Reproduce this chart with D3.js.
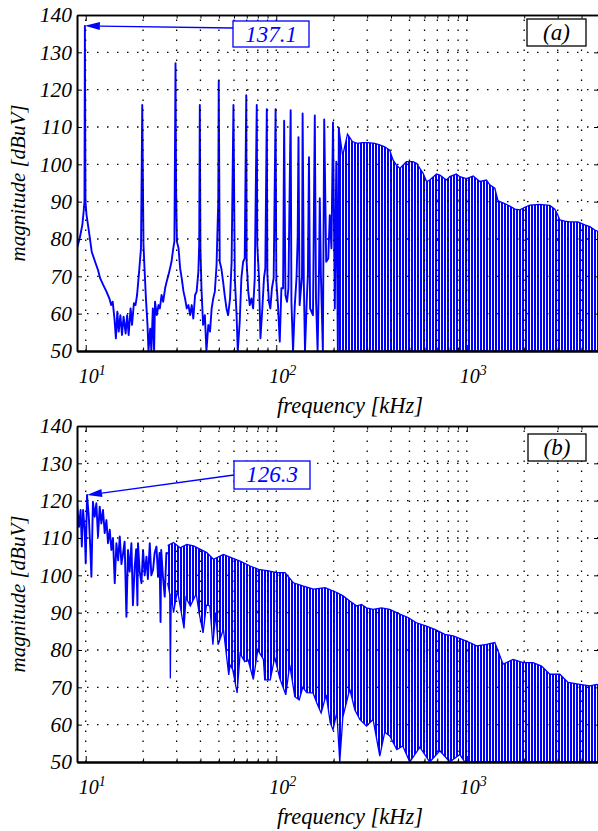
<!DOCTYPE html>
<html><head><meta charset="utf-8">
<script src="https://cdn.jsdelivr.net/npm/d3@7"></script>
<style>
html,body{margin:0;padding:0;background:#fff;}
svg{display:block;}
</style></head><body>
<svg id="chart" width="598" height="831"></svg>
<script>
// ---------- axis data ----------
const xDecades = [10, 100, 1000];
const xDecadeExp = ["1", "2", "3"];
const xMinor = [20,30,40,50,60,70,80,90,200,300,400,500,600,700,800,900,2000,3000,4000];
const yTicks = [50,60,70,80,90,100,110,120,130,140];

// ---------- panel (a): low-frequency trace (kHz, dBuV) ----------
const lineFreqA = [9.0,9.3,9.6,9.75,9.85,9.9,9.97,10.1,10.4,10.75,11.2,11.6,11.9,12.35,12.85,13.3,13.6,13.85,14.15,14.4,14.65,14.9,15.2,15.5,15.8,16.2,16.5,16.8,17.2,17.5,17.9,18.25,18.6,19.0,19.5,19.8,20.1,20.35,20.7,21.1,21.35,21.8,22.1,22.5,22.85,23.1,23.6,24.1,24.5,25.0,25.5,26.1,26.6,27.2,28.2,28.8,29.2,29.6,29.8,30.1,30.7,31.3,31.9,32.6,33.2,33.9,34.6,35.3,36.0,36.7,37.5,38.2,39.0,39.4,39.7,40.0,40.5,41.3,42.2,43.0,44.0,44.9,45.8,46.7,47.6,48.6,49.6,49.9,50.5,51.5,52.6,53.6,54.8,55.9,57.2,58.3,59.6,60.6,61.9,62.8,64.3,65.6,67.0,68.3,69.6,69.9,71.3,72.6,74.1,75.6,77.1,79.0,79.5,81.2,82.6,84.5,86.2,87.6,89.2,89.8,91.5,93.1,94.9,96.9,99.2,100.1,102.1,104.3,106.4,108.6,110.0,111.7,113.9,115.8,119.0,120.1,122.5,125.1,127.7,129.5,130.8,132.6,136.5,137.5,139.5,141.5,144.7,146.5,148.5,150.5,155.8,159.3,161.6,164.8,167.3,169.2,171.5,175.6,178.5,182.8,187.5,190.9,194.8,198.5,202.9,206.5,210.5,213,216];
const lineDbA = [77.5,80.2,83.8,87.3,90,137.1,90,86.4,82,76.6,73.9,71.7,69.5,67.7,65.9,64.1,62.3,63.2,58.7,53.4,60.5,55.2,59.6,54.3,59.2,54.7,59.6,54.3,61.4,57,62.8,62.3,65,70.4,77.5,115.9,78.4,72.1,64.1,57,50,56,50,61.4,50,63.2,59.6,62.3,61.4,65,63.2,66.8,68.6,70.4,73.9,77.5,79.3,127.1,93.6,79.3,77.5,72.1,69.5,65.9,64.1,61.4,62.3,59.6,62.3,58.7,65,65.9,71.2,78.4,115.9,77.5,66.8,57,59.6,50,57,55.2,61.4,64.1,65.9,73,90,122.4,73.9,72.1,68.6,65,61.4,59.6,64.1,73.9,115.9,69.5,59.6,50,57.9,69.5,73.9,74.8,118.5,73.9,65.9,62.3,64.1,61.4,69.5,115.9,78.4,69.5,53.4,61.4,69.5,72.1,114.8,70.4,63.2,61.4,66.8,69.5,114.8,68.6,62.3,52.5,66.8,66.8,111.7,65,63.2,66.8,114.5,63.2,50,62.3,69.5,80.2,107.3,62.3,70,113.6,68.6,50,64.1,70.4,101.9,61.4,59.6,113.1,64.1,50,68.6,90.9,70.4,50,112,73.9,74.8,86.4,77.5,111.2,61.4,100.7,50,109.8,60];

// ---------- panel (a): dense harmonic band, top and bottom envelopes ----------
const bandTopFreqA = [213,223,236.5,251,266,282,303,329,349,371,394,410,427,445,482,522,544,567,590,615,639,693,722,782,814,882,919,996,1080,1170,1268,1320,1403,1455,1490,1583,1682,1786,1898,2016,2142,2417,2727,2897,3000,3077,3268,3473,3830,4163,4423,4698,5000];
const bandTopDbA = [109.8,102.3,108.1,106.1,105.6,105.8,105.8,105.6,105.2,104.7,103.8,101.2,99.8,98.9,100.7,100.7,100.3,98.9,97.6,95.4,95.8,97.4,97.1,95.8,96.7,97.4,96.7,96.2,96.9,95.4,95.8,94.5,93.6,90.4,90.0,89.5,88.8,88.0,87.8,88.5,89.1,89.3,89.0,88.0,86.5,85.1,84.8,84.6,84.6,83.8,83.3,82.4,81.8];
const bandBotFreqA = [213, 5000];
const bandBotDbA = [50, 50];

// ---------- panel (b): low-frequency trace ----------
const lineFreqB = [9.0,9.22,9.40,9.54,9.69,9.88,10.0,10.16,10.38,10.58,10.71,10.91,11.15,11.37,11.60,11.84,12.08,12.32,12.58,12.84,13.09,13.37,13.64,13.9,14.20,14.49,14.8,15.09,15.4,15.70,16.0,16.35,16.67,17.0,17.37,17.69,18.08,18.4,18.68,18.81,19.2,19.61,19.99,20.4,20.83,21.2,21.68,22.1,22.57,23.0,23.51,23.97,24.4,24.7,24.9,25.4,25.98,26.5,27.1];
const lineDbB = [119.3,113.0,117.5,107.7,117.5,112.1,103.2,121.5,115.7,106.8,99.6,119.7,115.7,119.3,110.4,118.4,113.9,117.5,111.3,114.8,108.6,112.2,106.8,110,97.9,108.6,104,110.4,103,105.9,109,88.9,106.8,101,108.6,92,102.4,107,92,108.6,101,97.9,106.8,100,105,99,108.6,100,101.5,106,107.7,99.6,106,87.5,106.8,100,94.3,106,105.9];

// ---------- panel (b): dense band envelopes ----------
const bandTopFreqB = [26.9,28.9,31.3,33.9,36.8,39.8,43.2,46.8,52.8,58.4,64.6,72.9,80.7,91.0,100.6,111.2,123.1,139,156.8,180.4,207.9,224.2,243.1,264.6,280.1,297.5,322.2,356.6,394.3,444.9,491.8,544.4,614.4,679.2,766.5,847.5,938,1037,1125,1269,1403,1551,1750,1975,2229,2467,2727,3077,3401,3919,4423,4813,5000];
const bandTopDbB = [108,108.8,107.4,108.3,107.9,107,106.1,104.3,105.6,104.7,103.8,102.5,101.6,101.2,100.7,100.7,98,97.1,96.3,96.7,95.4,94.5,93.1,91.8,92.2,91.3,90.9,91.3,90.9,89.6,88.7,87.3,86.4,85.5,84.2,83.8,82.9,82,81.1,81.5,82,76.2,77.5,76.6,76.6,75.7,73.5,73.5,71.3,70.8,70.4,70.8,70.6];
const bandBotFreqB = [26.9,27.6,27.8,28.1,28.9,30.3,32.8,33.6,35.4,38.0,39.4,41.3,43.0,44.8,46.5,48.1,49.5,52.8,56.3,57.2,59.1,62.3,64.6,68.3,71.1,75.8,80,85.6,87.0,93.0,98.2,104.3,112.2,117.7,125.1,132,137.8,144.7,156,163,172,182.8,192,198.6,207.9,215.4,223.6,243.1,258.3,274.4,297.5,322,349.4,371,394.3,429,461,502,567,639,722,814,919,976,5000];
const bandBotDbB = [98,95,72.4,95,90,96,85.8,94,91.8,95,89.8,84.6,92,91.8,81.4,90,81.4,85.5,73.3,76,74.7,68.5,79,76.9,77.4,72.1,80,77.5,72,72,78,72.4,68,76,67.5,66.6,70,68.6,68.5,65.9,63.1,68,60.5,58.6,63.2,50,62,69.5,64,61.4,59.6,61.4,51.6,58,57,53.3,54.3,50,54,50,53,50,52,50,50];

// ---------- annotations ----------
const annFreq = [9.9, 10.16];
const annDb = [137.1, 121.5];
const annLabel = ["137.1", "126.3"];
const panelTags = ["(a)", "(b)"];

// ---------- drawing ----------
const BLUE = "#0000ff";
const FONT = "Liberation Serif";
const svg = d3.select("#chart");
const defs = svg.append("defs");
const pat = defs.append("pattern").attr("id","stripes").attr("patternUnits","userSpaceOnUse")
  .attr("width",3).attr("height",10);
pat.append("rect").attr("x",0).attr("y",0).attr("width",2).attr("height",10).attr("fill",BLUE);

const X0 = 77, X1 = 600;

const panels = [
  {id:"a", top:15, bottom:351, lf:lineFreqA, lv:lineDbA, tf:bandTopFreqA, tv:bandTopDbA, bf:bandBotFreqA, bv:bandBotDbA,
   box:{x:233,y:21,w:76,h:26,ay:28,ty:42}, tag:{x:527,y:19,w:59,h:27,ty:40}},
  {id:"b", top:426, bottom:762, lf:lineFreqB, lv:lineDbB, tf:bandTopFreqB, tv:bandTopDbB, bf:bandBotFreqB, bv:bandBotDbB,
   box:{x:234,y:461,w:76,h:28,ay:475,ty:482}, tag:{x:528,y:434,w:58,h:27,ty:455}}
];

const txt = (sel, size, fill) => sel.attr("font-family", FONT).attr("font-style","italic")
  .attr("font-size", size).attr("fill", fill || "#000");

panels.forEach((p, pi) => {
  const x = d3.scaleLog().domain([9, 5000]).range([X0, X1]);
  const y = d3.scaleLinear().domain([50, 140]).range([p.bottom, p.top]);
  const g = svg.append("g");
  const clipId = "clip-" + p.id;
  defs.append("clipPath").attr("id", clipId).append("rect")
    .attr("x", X0).attr("y", p.top).attr("width", X1 - X0).attr("height", p.bottom - p.top);
  const dg = g.append("g").attr("clip-path", `url(#${clipId})`);
  const line = d3.line();
  const topPts = p.tf.map((f,i)=>[x(f), y(p.tv[i])]);
  const botPts = p.bf.map((f,i)=>[x(f), y(p.bv[i])]);
  dg.append("path").attr("d", line(topPts.concat(botPts.slice().reverse())) + "Z")
    .attr("fill","url(#stripes)").attr("shape-rendering","crispEdges");
  dg.append("path").attr("d", line(topPts)).attr("fill","none").attr("stroke",BLUE).attr("stroke-width",1.3);
  dg.append("path").attr("d", line(botPts)).attr("fill","none").attr("stroke",BLUE).attr("stroke-width",1.3);
  const lpts = p.lf.map((f,i)=>[x(f), y(p.lv[i])]);
  dg.append("path").attr("d", line(lpts)).attr("fill","none").attr("stroke",BLUE)
    .attr("stroke-width",1.9).attr("stroke-linejoin","round");

  // grid (dotted, on top of data)
  const grid = g.append("g").attr("stroke","#000").attr("stroke-width",1.3).attr("stroke-dasharray","1.5,8.5");
  grid.selectAll("line.v").data(xMinor.concat(xDecades)).join("line")
    .attr("x1", d=>x(d)).attr("x2", d=>x(d)).attr("y1", p.bottom).attr("y2", p.top);
  grid.selectAll("line.h").data(yTicks.filter(v=>v>50 && v<140)).join("line")
    .attr("x1", X0).attr("x2", X1).attr("y1", d=>y(d)).attr("y2", d=>y(d));

  // axes
  const styleAxis = (sel, w) => {
    sel.attr("font-family", FONT).attr("font-size", 21.5);
    sel.select(".domain").attr("stroke","#000").attr("stroke-width", w);
    sel.selectAll(".tick line").attr("stroke","#000").attr("stroke-width",1);
    txt(sel.selectAll(".tick text"), 21.5);
  };
  const yAx = g.append("g").attr("transform",`translate(${X0},0)`)
    .call(d3.axisLeft(y).tickValues(yTicks).tickSizeInner(-5).tickSizeOuter(0).tickPadding(5).tickFormat(d3.format("d")));
  styleAxis(yAx, 2);
  const yAxR = g.append("g").attr("transform",`translate(${X1},0)`)
    .call(d3.axisRight(y).tickValues(yTicks).tickSizeInner(-6).tickSizeOuter(0).tickFormat(""));
  styleAxis(yAxR, 1.3);
  const xb1 = g.append("g").attr("transform",`translate(0,${p.bottom})`)
    .call(d3.axisBottom(x).tickValues(xMinor).tickSizeInner(-3.5).tickSizeOuter(0).tickFormat(""));
  styleAxis(xb1, 2);
  const xb2 = g.append("g").attr("transform",`translate(0,${p.bottom})`)
    .call(d3.axisBottom(x).tickValues(xDecades).tickSizeInner(-6).tickSizeOuter(0).tickFormat(""));
  styleAxis(xb2, 2);
  const xt1 = g.append("g").attr("transform",`translate(0,${p.top})`)
    .call(d3.axisTop(x).tickValues(xMinor).tickSizeInner(-3.5).tickSizeOuter(0).tickFormat(""));
  styleAxis(xt1, 1.3);
  const xt2 = g.append("g").attr("transform",`translate(0,${p.top})`)
    .call(d3.axisTop(x).tickValues(xDecades).tickSizeInner(-6).tickSizeOuter(0).tickFormat(""));
  styleAxis(xt2, 1.3);

  // decade labels 10^n
  const lab = txt(g.selectAll("text.xl").data(xDecades).join("text")
    .attr("x", d=>x(d)-7).attr("y", p.bottom+32), 20);
  lab.append("tspan").text("10");
  lab.append("tspan").attr("dy",-8).attr("font-size",14).text((d,i)=>xDecadeExp[i]);

  // axis titles
  txt(g.append("text").attr("x", 350).attr("y", p.bottom + 62).attr("text-anchor","middle"), 22.5)
    .text("frequency [kHz]");
  txt(g.append("text").attr("transform", `translate(25,${(p.top+p.bottom)/2}) rotate(-90)`)
    .attr("text-anchor","middle"), 21)
    .text("magnitude [dBuV]");

  // peak annotation
  const tipX = x(annFreq[pi]), tipY = y(annDb[pi]);
  const ax = p.box.x, ay = p.box.ay;
  const ang = Math.atan2(ay - tipY, ax - tipX);
  const L = 15, Hh = 4;
  const bx = tipX + L*Math.cos(ang), by = tipY + L*Math.sin(ang);
  g.append("line").attr("x1", bx).attr("y1", by).attr("x2", ax).attr("y2", ay)
    .attr("stroke", BLUE).attr("stroke-width", 1.3);
  g.append("path").attr("d", d3.line()([
      [tipX, tipY],
      [bx - Hh*Math.sin(ang), by + Hh*Math.cos(ang)],
      [bx + Hh*Math.sin(ang), by - Hh*Math.cos(ang)]]) + "Z")
    .attr("fill", BLUE);
  g.append("rect").attr("x", p.box.x).attr("y", p.box.y).attr("width", p.box.w).attr("height", p.box.h)
    .attr("fill","#fff").attr("stroke",BLUE).attr("stroke-width",1.3);
  txt(g.append("text").attr("x", p.box.x + p.box.w/2).attr("y", p.box.ty).attr("text-anchor","middle"), 23, BLUE)
    .text(annLabel[pi]);

  // panel tag
  g.append("rect").attr("x", p.tag.x).attr("y", p.tag.y).attr("width", p.tag.w).attr("height", p.tag.h)
    .attr("fill","#fff").attr("stroke","#000").attr("stroke-width",1.3);
  txt(g.append("text").attr("x", p.tag.x + p.tag.w/2).attr("y", p.tag.ty).attr("text-anchor","middle"), 23)
    .text(panelTags[pi]);
});
</script>
</body></html>
